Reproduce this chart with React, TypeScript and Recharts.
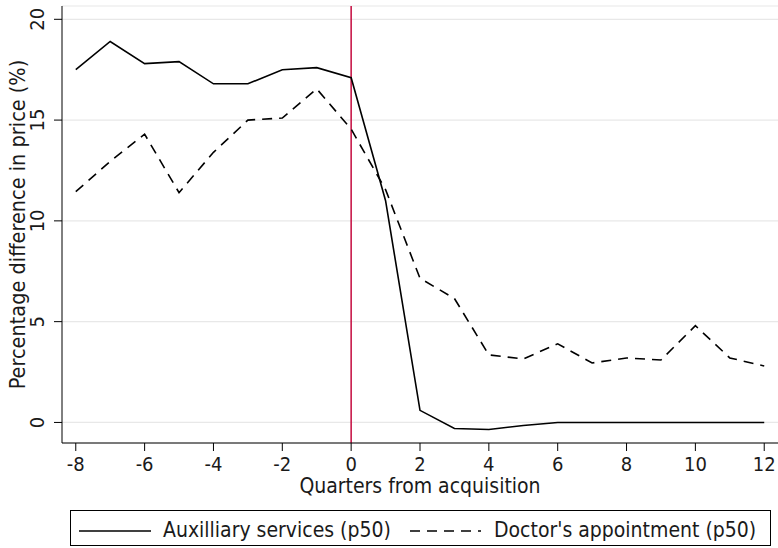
import { CartesianGrid, Legend, Line, LineChart, ReferenceLine, XAxis, YAxis } from 'recharts';

const quarters = [-8, -7, -6, -5, -4, -3, -2, -1, 0, 1, 2, 3, 4, 5, 6, 7, 8, 9, 10, 11, 12];
const auxilliary = [17.5, 18.9, 17.8, 17.9, 16.8, 16.8, 17.5, 17.6, 17.1, 11.0, 0.6, -0.3, -0.35, -0.15, 0, 0, 0, 0, 0, 0, 0];
const doctor = [11.45, 12.95, 14.3, 11.4, 13.4, 15.0, 15.1, 16.55, 14.55, 11.55, 7.15, 6.15, 3.35, 3.15, 3.9, 2.95, 3.2, 3.1, 4.8, 3.2, 2.8];

const xTicks = [-8, -6, -4, -2, 0, 2, 4, 6, 8, 10, 12];
const yTicks = [0, 5, 10, 15, 20];

const seriesNames = ['Auxilliary services (p50)', "Doctor's appointment (p50)"];

const data = quarters.map((q, i) => ({ q, aux: auxilliary[i], doc: doctor[i] }));

const FONT = "'DejaVu Sans Condensed', 'DejaVu Sans', sans-serif";
const TEXT = '#1a1a1a';
const DASH = '10 7';

const XTick = ({ x, y, payload }: any) => (
    <text x={x} y={y + 18} textAnchor="middle" fontFamily={FONT} fontSize={20} fill={TEXT}>
        {payload.value}
    </text>
);

const YTick = ({ x, y, payload }: any) => (
    <text
        x={x - 8}
        y={y}
        transform={`rotate(-90 ${x - 8} ${y})`}
        textAnchor="middle"
        fontFamily={FONT}
        fontSize={20}
        fill={TEXT}
    >
        {payload.value}
    </text>
);

const XTitle = ({ viewBox }: any) => (
    <text
        x={viewBox.x + viewBox.width / 2}
        y={viewBox.y + 50}
        textAnchor="middle"
        fontFamily={FONT}
        fontSize={21}
        fill={TEXT}
    >
        Quarters from acquisition
    </text>
);

const YTitle = ({ viewBox }: any) => {
    const cx = 25;
    const cy = viewBox.y + viewBox.height / 2;
    return (
        <text
            x={cx}
            y={cy}
            transform={`rotate(-90 ${cx} ${cy})`}
            textAnchor="middle"
            fontFamily={FONT}
            fontSize={21.5}
            fill={TEXT}
        >
            Percentage difference in price (%)
        </text>
    );
};

const LegendBox = () => (
    <div
        style={{
            position: 'relative',
            width: 701,
            height: 36,
            border: '1px solid #000',
            boxSizing: 'border-box',
        }}
    >
        <svg width={701} height={36} style={{ position: 'absolute', left: 0, top: 0 }}>
            <line x1={8} x2={80} y1={20} y2={20} stroke="#000" strokeWidth={1.6} />
            <line x1={339} x2={410} y1={20} y2={20} stroke="#000" strokeWidth={1.6} strokeDasharray={DASH} />
            <text x={92} y={26} fontFamily={FONT} fontSize={21} fill={TEXT}>
                {seriesNames[0]}
            </text>
            <text x={423} y={26} fontFamily={FONT} fontSize={21} fill={TEXT}>
                {seriesNames[1]}
            </text>
        </svg>
    </div>
);

export default function App() {
    return (
        <div style={{ position: 'absolute', left: 0, top: 0, background: '#fff' }}>
            <LineChart width={778} height={548} data={data} margin={{ top: 6, right: 0, bottom: 0, left: 0 }}>
                <CartesianGrid horizontal vertical={false} stroke="#e8e8e8" strokeWidth={1.2} />
                <XAxis
                    dataKey="q"
                    type="number"
                    domain={[-8.4, 12.4]}
                    ticks={xTicks}
                    allowDataOverflow
                    height={105}
                    tickSize={8}
                    tick={<XTick />}
                    stroke="#000"
                    label={<XTitle />}
                />
                <YAxis
                    type="number"
                    domain={[-1.02, 20.66]}
                    ticks={yTicks}
                    allowDataOverflow
                    width={62}
                    tickSize={8}
                    tick={<YTick />}
                    stroke="#000"
                    label={<YTitle />}
                />
                <ReferenceLine x={0} stroke="#c8194a" strokeWidth={1.6} />
                <Line
                    type="linear"
                    dataKey="aux"
                    name={seriesNames[0]}
                    stroke="#000"
                    strokeWidth={1.6}
                    dot={false}
                    isAnimationActive={false}
                />
                <Line
                    type="linear"
                    dataKey="doc"
                    name={seriesNames[1]}
                    stroke="#000"
                    strokeWidth={1.6}
                    strokeDasharray={DASH}
                    dot={false}
                    isAnimationActive={false}
                />
                <Legend
                    layout="horizontal"
                    verticalAlign="middle"
                    align="center"
                    content={<LegendBox />}
                    wrapperStyle={{ position: 'absolute', left: 70, top: 510, width: 701, height: 36 }}
                />
            </LineChart>
        </div>
    );
}
